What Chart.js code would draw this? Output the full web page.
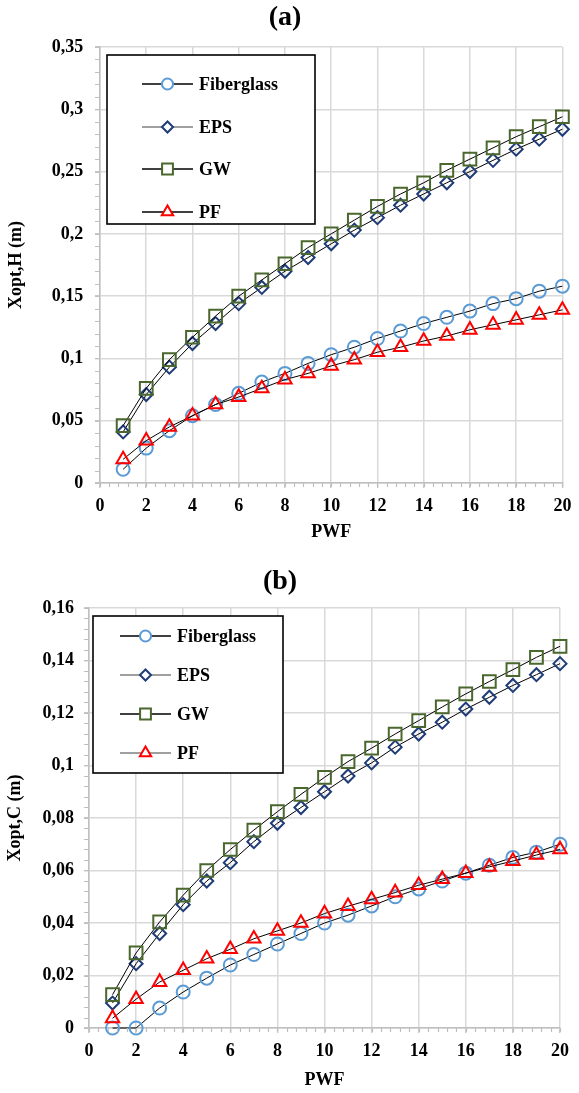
<!DOCTYPE html>
<html>
<head>
<meta charset="utf-8">
<title>Xopt vs PWF</title>
<script src="https://cdn.jsdelivr.net/npm/chart.js@4.4.1/dist/chart.umd.min.js"></script>
<style>
  body { margin: 0; background: #fff; }
  #wrap { position: relative; width: 579px; height: 1093px; }
  canvas { position: absolute; left: 0; }
  #chartA { top: 0; }
  #chartB { top: 555px; }
</style>
</head>
<body>
<div id="wrap">
  <canvas id="chartA" width="579" height="555"></canvas>
  <canvas id="chartB" width="579" height="538"></canvas>
</div>
<script>
// --- Data ---
const pwf = [1, 2, 3, 4, 5, 6, 7, 8, 9, 10, 11, 12, 13, 14, 15, 16, 17, 18, 19, 20];
const seriesNames = ['Fiberglass', 'EPS', 'GW', 'PF'];

// (a) Xopt,H
const fiberH = [0.011, 0.028, 0.042, 0.054, 0.063, 0.072, 0.081, 0.088, 0.096, 0.103, 0.109, 0.116, 0.122, 0.128, 0.133, 0.138, 0.144, 0.148, 0.154, 0.158];
const epsH   = [0.041, 0.071, 0.093, 0.112, 0.128, 0.144, 0.157, 0.170, 0.181, 0.192, 0.203, 0.213, 0.223, 0.232, 0.241, 0.250, 0.259, 0.268, 0.276, 0.284];
const gwH    = [0.046, 0.076, 0.099, 0.117, 0.134, 0.150, 0.163, 0.176, 0.189, 0.200, 0.211, 0.222, 0.232, 0.241, 0.251, 0.260, 0.269, 0.278, 0.286, 0.294];
const pfH    = [0.019, 0.034, 0.045, 0.054, 0.063, 0.069, 0.076, 0.083, 0.088, 0.094, 0.099, 0.105, 0.109, 0.114, 0.118, 0.123, 0.127, 0.131, 0.135, 0.139];

// (b) Xopt,C
const fiberC = [0, 0, 0.0076, 0.0137, 0.019, 0.024, 0.028, 0.032, 0.036, 0.040, 0.043, 0.0465, 0.050, 0.053, 0.056, 0.059, 0.062, 0.065, 0.067, 0.070];
const epsC   = [0.0095, 0.0245, 0.036, 0.047, 0.056, 0.063, 0.071, 0.078, 0.084, 0.090, 0.096, 0.101, 0.107, 0.112, 0.1165, 0.1215, 0.126, 0.1305, 0.1346, 0.1388];
const gwC    = [0.0127, 0.0286, 0.0404, 0.0506, 0.060, 0.068, 0.0754, 0.0824, 0.089, 0.0955, 0.1015, 0.1066, 0.112, 0.1171, 0.1223, 0.1273, 0.132, 0.1365, 0.1412, 0.1454];
const pfC    = [0.0037, 0.011, 0.0175, 0.022, 0.0264, 0.030, 0.034, 0.037, 0.040, 0.0436, 0.0464, 0.049, 0.0516, 0.0544, 0.0567, 0.059, 0.0614, 0.0636, 0.0659, 0.068];

document.addEventListener('DOMContentLoaded', () => {

  const SERIF = '"Liberation Serif", "Times New Roman", serif';
  Chart.defaults.font.family = SERIF;
  Chart.defaults.color = '#000';

  const GRID = '#d9d9d9';
  const AXIS = '#bfbfbf';

  // marker look per series (same order as seriesNames)
  const markers = [
    { style: 'circle',   color: '#5b9bd5', radius: 6.5 },
    { style: 'rectRot',  color: '#1f3c78', radius: 6.5 },
    { style: 'rect',     color: '#4a672d', radius: 9 },
    { style: 'triangle', color: '#ff0000', radius: 7.7 }
  ];

  const fmt = v => String(Math.round(v * 1000) / 1000).replace('.', ',');

  // --- Minor tick marks on both axes ---
  const minorTicks = {
    id: 'minorTicks',
    afterDraw(chart, args, opts) {
      const { ctx } = chart;
      const xs = chart.scales.x, ys = chart.scales.y;
      ctx.save();
      ctx.strokeStyle = AXIS;
      ctx.lineWidth = 1.2;
      ctx.beginPath();
      for (let v = xs.min; v <= xs.max + 1e-9; v += opts.xStep) {
        const px = Math.round(xs.getPixelForValue(v)) + 0.5;
        ctx.moveTo(px, ys.bottom);
        ctx.lineTo(px, ys.bottom + 4);
      }
      for (let v = ys.min; v <= ys.max + 1e-9; v += opts.yStep) {
        const py = Math.round(ys.getPixelForValue(v)) + 0.5;
        ctx.moveTo(xs.left - 5, py);
        ctx.lineTo(xs.left, py);
      }
      ctx.stroke();
      ctx.restore();
    }
  };

  // --- Boxed legend inside the plot area ---
  const insideLegend = {
    id: 'insideLegend',
    afterDraw(chart, args, opts) {
      const { ctx, chartArea } = chart;
      const bx = chartArea.left + opts.x, by = chartArea.top + opts.y;
      ctx.save();
      ctx.fillStyle = '#fff';
      ctx.fillRect(bx, by, opts.w, opts.h);
      ctx.strokeStyle = '#000';
      ctx.lineWidth = 1.6;
      ctx.strokeRect(bx, by, opts.w, opts.h);

      chart.data.datasets.forEach((ds, i) => {
        const cy = by + opts.rows[i];
        const x1 = bx + opts.lineFrom, x2 = bx + opts.lineTo;
        ctx.strokeStyle = opts.lineColors[i];
        ctx.lineWidth = 1.5;
        ctx.beginPath();
        ctx.moveTo(x1, cy);
        ctx.lineTo(x2, cy);
        ctx.stroke();

        const m = markers[i];
        ctx.strokeStyle = m.color;
        ctx.fillStyle = '#fff';
        ctx.lineWidth = 2;
        Chart.helpers.drawPoint(ctx, { pointStyle: m.style, radius: m.radius * 0.85, borderWidth: 2, rotation: 0 }, (x1 + x2) / 2, cy);

        ctx.fillStyle = '#000';
        ctx.font = 'bold 18px ' + SERIF;
        ctx.textBaseline = 'middle';
        ctx.textAlign = 'left';
        ctx.fillText(ds.label, bx + opts.textX, cy + 1);
      });
      ctx.restore();
    }
  };

  const buildDatasets = (values) => values.map((vals, i) => ({
    label: seriesNames[i],
    data: vals,
    borderColor: '#000',
    borderWidth: 1,
    tension: 0,
    pointStyle: markers[i].style,
    pointRadius: markers[i].radius,
    pointHoverRadius: markers[i].radius,
    pointBorderColor: markers[i].color,
    pointBackgroundColor: 'rgba(0,0,0,0)',
    pointBorderWidth: 2,
    order: 4 - i,
    clip: false
  }));

  const makeChart = (canvasId, cfg) => {
    const ctx = document.getElementById(canvasId);
    return new Chart(ctx, {
      type: 'line',
      data: { labels: pwf, datasets: buildDatasets(cfg.values) },
      options: {
        responsive: false,
        animation: false,
        devicePixelRatio: 1,
        layout: { padding: { left: 0, right: cfg.padRight, top: 0, bottom: 0 } },
        plugins: {
          legend: { display: false },
          tooltip: { enabled: false },
          title: {
            display: true,
            text: cfg.title,
            color: '#000',
            font: { size: 28, weight: 'bold', lineHeight: 1.2 },
            padding: cfg.titlePad
          },
          minorTicks: { xStep: 0.4, yStep: cfg.yMinor },
          insideLegend: cfg.legend
        },
        scales: {
          x: {
            type: 'linear',
            min: 0,
            max: 20,
            afterFit: (scale) => { scale.height = cfg.xHeight; },
            ticks: { stepSize: 2, padding: 7.6, font: { size: 18, weight: 'bold' }, color: '#000' },
            grid: { color: GRID, lineWidth: 1.5, tickLength: 5, tickColor: AXIS, tickWidth: 1.2 },
            border: { color: AXIS, width: 1.5 },
            title: { display: true, text: 'PWF', color: '#000', font: { size: 18, weight: 'bold', lineHeight: 1.2 }, padding: { top: 0, bottom: cfg.xTitlePad } }
          },
          y: {
            min: 0,
            max: cfg.yMax,
            afterFit: (scale) => { scale.width = cfg.yWidth; },
            ticks: { stepSize: cfg.yStep, padding: cfg.yTickPad, font: { size: 18, weight: 'bold' }, color: '#000', callback: v => fmt(v) },
            grid: { color: GRID, lineWidth: 1.5, tickLength: 5, tickColor: AXIS, tickWidth: 1.2 },
            border: { color: AXIS, width: 1.5 },
            title: { display: true, text: cfg.yTitle, color: '#000', font: { size: 18, weight: 'bold', lineHeight: 1.2 }, padding: { top: cfg.yTitlePad, bottom: 0 } }
          }
        }
      },
      plugins: [minorTicks, insideLegend]
    });
  };

  // --- (a) ---
  makeChart('chartA', {
    title: '(a)',
    titlePad: { top: 1, bottom: 12.4 },
    values: [fiberH, epsH, gwH, pfH],
    yMax: 0.35, yStep: 0.05, yMinor: 0.01,
    yTitle: 'Xopt,H (m)',
    yWidth: 100, yTickPad: 11.7, yTitlePad: 6,
    xHeight: 72, xTitlePad: 12.2,
    padRight: 9,
    legend: {
      x: 7, y: 8, w: 208, h: 169,
      rows: [29, 72, 114, 157],
      lineFrom: 35, lineTo: 86, textX: 92,
      lineColors: ['#000', '#7f7f7f', '#000', '#000']
    }
  });

  // --- (b) ---
  makeChart('chartB', {
    title: '(b)',
    titlePad: { top: 10, bottom: 9.4 },
    values: [fiberC, epsC, gwC, pfC],
    yMax: 0.16, yStep: 0.02, yMinor: 0.004,
    yTitle: 'Xopt,C (m)',
    yWidth: 89, yTickPad: 10, yTitlePad: 4.2,
    xHeight: 65, xTitlePad: 2.2,
    padRight: 19,
    legend: {
      x: 4, y: 8, w: 190, h: 157,
      rows: [20, 59, 98, 137],
      lineFrom: 27, lineTo: 78, textX: 84,
      lineColors: ['#000', '#7f7f7f', '#000', '#7f7f7f']
    }
  });

});
</script>
</body>
</html>
